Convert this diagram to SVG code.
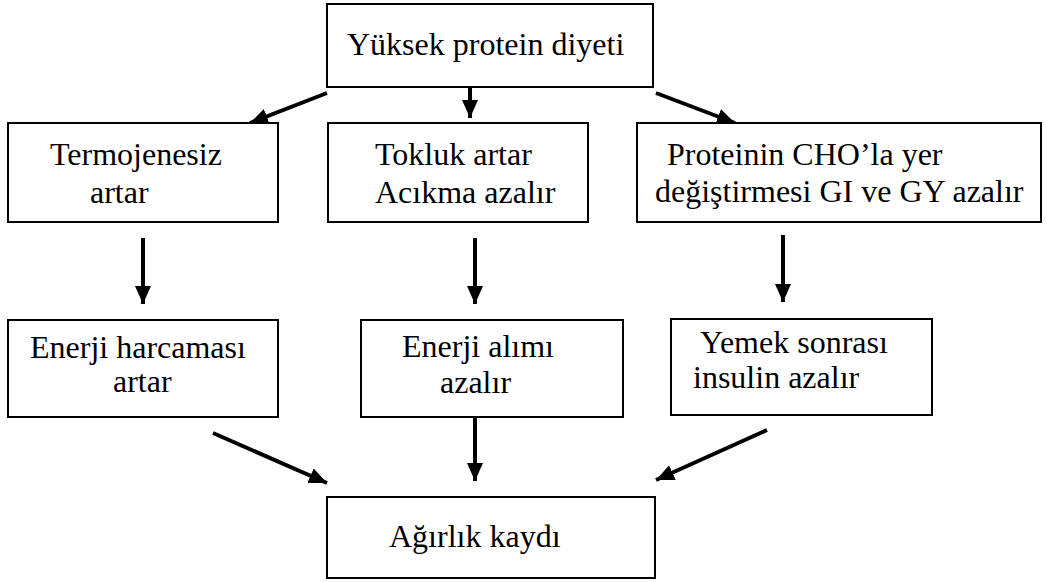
<svg xmlns="http://www.w3.org/2000/svg" width="1047" height="582" viewBox="0 0 1047 582">
<defs>
<style>
.box{fill:#fff;stroke:#000;stroke-width:2}
.t{font-family:"Liberation Serif","Times New Roman",serif;font-size:32px;fill:#000}
.c{stroke:#000;stroke-width:4;fill:none;marker-end:url(#ah)}
</style>
<marker id="ah" markerUnits="userSpaceOnUse" markerWidth="20" markerHeight="18" refX="18" refY="8" orient="auto">
<path d="M0,0 L18,8 L0,16 Z" fill="#000"/>
</marker>
</defs>
<rect width="1047" height="582" fill="#fff"/>
<g id="connectors">
<line class="c" x1="327" y1="93" x2="250" y2="123"/>
<line class="c" x1="470" y1="87" x2="470" y2="118"/>
<line class="c" x1="656" y1="93" x2="735" y2="123"/>
<line class="c" x1="143" y1="238" x2="143" y2="304"/>
<line class="c" x1="475" y1="238" x2="475" y2="304"/>
<line class="c" x1="783" y1="235" x2="783" y2="302"/>
<line class="c" x1="213" y1="433" x2="327" y2="483"/>
<line class="c" x1="475" y1="417" x2="475" y2="481"/>
<line class="c" x1="767" y1="430" x2="656" y2="480"/>
</g>
<g id="n_top">
<rect class="box" x="327" y="4" width="326" height="83"/>
<text class="t" x="347" y="55">Yüksek protein diyeti</text>
</g>
<g id="n_termo">
<rect class="box" x="8" y="123" width="270" height="99"/>
<text class="t" x="50" y="165">Termojenesiz</text>
<text class="t" x="90" y="203">artar</text>
</g>
<g id="n_tokluk">
<rect class="box" x="328" y="123" width="260" height="99"/>
<text class="t" x="375" y="165">Tokluk artar</text>
<text class="t" x="375" y="203">Acıkma azalır</text>
</g>
<g id="n_protein">
<rect class="box" x="637" y="123" width="404" height="99"/>
<text class="t" x="667" y="165">Proteinin CHO’la yer</text>
<text class="t" x="655" y="202">değiştirmesi GI ve GY azalır</text>
</g>
<g id="n_enerji_h">
<rect class="box" x="8" y="320" width="270" height="97"/>
<text class="t" x="30" y="358">Enerji harcaması</text>
<text class="t" x="113" y="392">artar</text>
</g>
<g id="n_enerji_a">
<rect class="box" x="361" y="320" width="262" height="97"/>
<text class="t" x="402" y="357">Enerji alımı</text>
<text class="t" x="440" y="393">azalır</text>
</g>
<g id="n_yemek">
<rect class="box" x="671" y="319" width="261" height="96"/>
<text class="t" x="700" y="353">Yemek sonrası</text>
<text class="t" x="693" y="388">insulin azalır</text>
</g>
<g id="n_agirlik">
<rect class="box" x="327" y="497" width="328" height="81"/>
<text class="t" x="389" y="547">Ağırlık kaydı</text>
</g>
</svg>
